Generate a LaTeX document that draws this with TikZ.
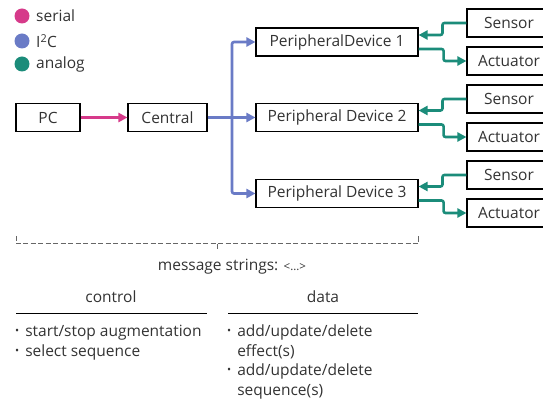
\documentclass[tikz,border=0pt]{standalone}
\usepackage{fontspec}
\setmainfont{Open Sans}
\usetikzlibrary{arrows.meta}
\definecolor{serialc}{HTML}{D63A8A}
\definecolor{i2cc}{HTML}{6A7BC6}
\definecolor{analogc}{HTML}{1B8C7A}
\definecolor{txt}{HTML}{333333}
\newcommand{\bul}{\raisebox{2pt}{\scalebox{0.7}{\textbullet}}}
\tikzset{
  box/.style={draw=black,line width=1.1pt,minimum height=28pt,inner sep=0pt,text=txt},
  link/.style={line width=2.6pt,rounded corners=2pt,-{Triangle[length=9pt,width=9pt]}},
  label/.style={text=txt,inner sep=0pt},
}
\begin{document}
\begin{tikzpicture}[x=1pt,y=-1pt,font=\fontsize{15.5}{19.5}\selectfont]
    \useasboundingbox (0,0) rectangle (543,403);
    % legend
    \fill[serialc] (22,16) circle (7.5);
    \node[label,anchor=west] (lserial) at (36,16) {serial};
    \fill[i2cc] (22,41) circle (7.5);
    \node[label,anchor=west] (li2c) at (36,41) {I\textsuperscript{2}C};
    \fill[analogc] (22,64) circle (7.5);
    \node[label,anchor=west] (lanalog) at (36,64) {analog};
    % main boxes
    \node[box,minimum width=64pt] (pc) at (48,117.5) {PC};
    \node[box,minimum width=79pt] (central) at (167.5,117.5) {Central};
    \node[box,minimum width=162pt] (pd1) at (337,42) {PeripheralDevice 1};
    \node[box,minimum width=162pt] (pd2) at (337,117.5) {Peripheral Device 2};
    \node[box,minimum width=162pt] (pd3) at (337,193.5) {Peripheral Device 3};
    % sensors and actuators (cut by the right edge)
    \node[box,minimum width=84pt] (s1) at (509,23) {Sensor};
    \node[box,minimum width=84pt] (a1) at (509,61) {Actuator};
    \node[box,minimum width=84pt] (s2) at (509,99) {Sensor};
    \node[box,minimum width=84pt] (a2) at (509,137) {Actuator};
    \node[box,minimum width=84pt] (s3) at (509,175) {Sensor};
    \node[box,minimum width=84pt] (a3) at (509,213) {Actuator};
    % serial and I2C
    \coordinate (bus) at (232,0);
    \draw[link,serialc] (pc) -- (central);
    \draw[link,i2cc] (central) -- (pd2);
    \draw[link,i2cc] (bus |- pd2) |- (pd1);
    \draw[link,i2cc] (bus |- pd2) |- (pd3);
    % analog
    \foreach \i in {1,2,3}{
      \draw[link,analogc] (s\i.west) -- ++(-24,0) |- ([yshift=7pt]pd\i.east);
      \draw[link,analogc] ([yshift=-7pt]pd\i.east) -- ++(25,0) |- (a\i.west);
    }
    % message strings brace
    \draw[gray!80!black,line width=1pt,dash pattern=on 5pt off 2.5pt] (16,236) -- (16,244) -- (418,244) -- (418,236);
    \draw[gray!80!black,line width=1pt] (217,244) -- (217,249);
    \node[label] (msg) at (232,267) {message strings: {\fontsize{11.5}{13}\selectfont <...>}};
    % control and data
    \node[label] (control) at (111,297) {control};
    \draw[line width=1pt] (16,313) -- (207,313);
    \node[label] (data) at (323,297) {data};
    \draw[line width=1pt] (228,313) -- (418,313);
    \node[label,anchor=north west] (ctrllist) at (15,323) {%
      \begin{tabular}{@{}l@{\hspace{6pt}}l@{}}
        \bul & start/stop augmentation\\
        \bul & select sequence
      \end{tabular}};
    \node[label,anchor=north west] (datalist) at (227,323) {%
      \begin{tabular}{@{}l@{\hspace{6pt}}l@{}}
        \bul & add/update/delete\\
             & effect(s)\\
        \bul & add/update/delete\\
             & sequence(s)
      \end{tabular}};
\end{tikzpicture}
\end{document}
